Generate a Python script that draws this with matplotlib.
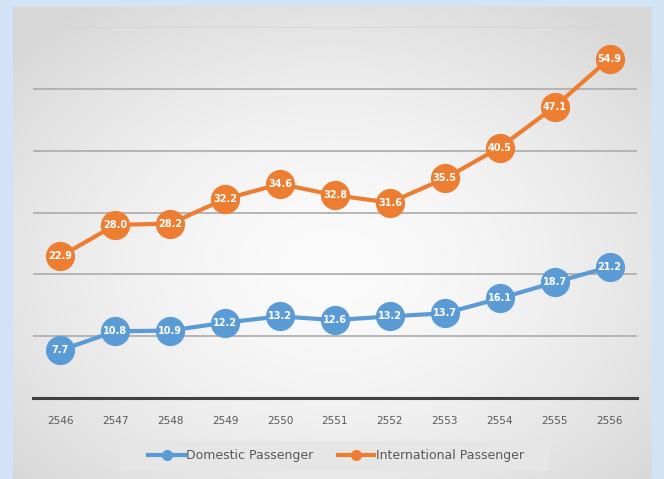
import numpy as np
import matplotlib
matplotlib.use("Agg")
import matplotlib.pyplot as plt
from matplotlib.lines import Line2D
from matplotlib.patches import Rectangle

# ------------------------------------------------------------
# Passenger data (millions) by Thai year
# ------------------------------------------------------------
years = ["2546", "2547", "2548", "2549", "2550", "2551",
         "2552", "2553", "2554", "2555", "2556"]
domestic = [7.7, 10.8, 10.9, 12.2, 13.2, 12.6, 13.2, 13.7, 16.1, 18.7, 21.2]
international = [22.9, 28.0, 28.2, 32.2, 34.6, 32.8, 31.6, 35.5, 40.5, 47.1, 54.9]

BLUE = "#5b9bd5"
ORANGE = "#ed7d31"
TEXT_GRAY = "#595959"

W, H = 664, 479
fig = plt.figure(figsize=(W / 100, H / 100), dpi=100)
fig.patch.set_facecolor("#d3e3f6")

# ------------------------------------------------------------
# Gray panel with a soft radial gradient behind the chart
# ------------------------------------------------------------
px0, px1, py0, py1 = 13, 652, 7, 479
bg = fig.add_axes([px0 / W, 1 - py1 / H, (px1 - px0) / W, (py1 - py0) / H])
gx, gy = np.meshgrid(np.linspace(-1, 1, 300), np.linspace(-1.1, 0.9, 300))
r = np.clip(np.sqrt(gx ** 2 + gy ** 2) / 1.35, 0, 1)
shade = 0.985 - 0.14 * r ** 1.6
bg.imshow(np.dstack([shade, shade, shade]), extent=[0, 1, 0, 1], aspect="auto")
bg.set_axis_off()

# ------------------------------------------------------------
# Main plot
# ------------------------------------------------------------
ax0, ax1, ay0, ay1 = 33, 637, 27, 398
ax = fig.add_axes([ax0 / W, 1 - ay1 / H, (ax1 - ax0) / W, (ay1 - ay0) / H])
ax.set_facecolor("none")
x = np.arange(len(years))
ax.set_xlim(-0.5, len(years) - 0.5)
ax.set_ylim(0, 60)

for v in range(10, 70, 10):
    ax.axhline(v, color="#d6d6d6" if v == 60 else "#b0b0b0", lw=1.3, zorder=1)
ax.axhline(0, color="#404040", lw=2.2, zorder=1, clip_on=False)

for vals, col in [(domestic, BLUE), (international, ORANGE)]:
    ax.plot(x, vals, color=col, lw=3, marker="o", markersize=20,
            markeredgecolor=col, zorder=3)
    for xi, v in zip(x, vals):
        ax.text(xi, v, f"{v:.1f}", color="white", fontsize=7, fontweight="bold",
                ha="center", va="center", zorder=4)

ax.set_xticks(x)
ax.set_xticklabels(years, fontsize=7.5, color=TEXT_GRAY)
ax.tick_params(axis="x", length=0, pad=13)
ax.set_yticks([])
for s in ax.spines.values():
    s.set_visible(False)

# ------------------------------------------------------------
# Legend
# ------------------------------------------------------------
fig.patches.append(Rectangle((120 / W, 1 - 471 / H), 429 / W, 30 / H,
                             transform=fig.transFigure, facecolor="#e6e6e6",
                             edgecolor="none", zorder=0))
handles = [
    Line2D([], [], color=BLUE, lw=3, marker="o", markersize=7),
    Line2D([], [], color=ORANGE, lw=3, marker="o", markersize=7),
]
leg = fig.legend(handles, ["Domestic Passenger", "International Passenger"],
                 loc="center", bbox_to_anchor=(336 / W, 1 - 456 / H), ncol=2,
                 fontsize=9, frameon=False, handlelength=2.9,
                 handletextpad=0.1, columnspacing=2.0)
for t in leg.get_texts():
    t.set_color(TEXT_GRAY)

fig.savefig("out.png", dpi=100)
